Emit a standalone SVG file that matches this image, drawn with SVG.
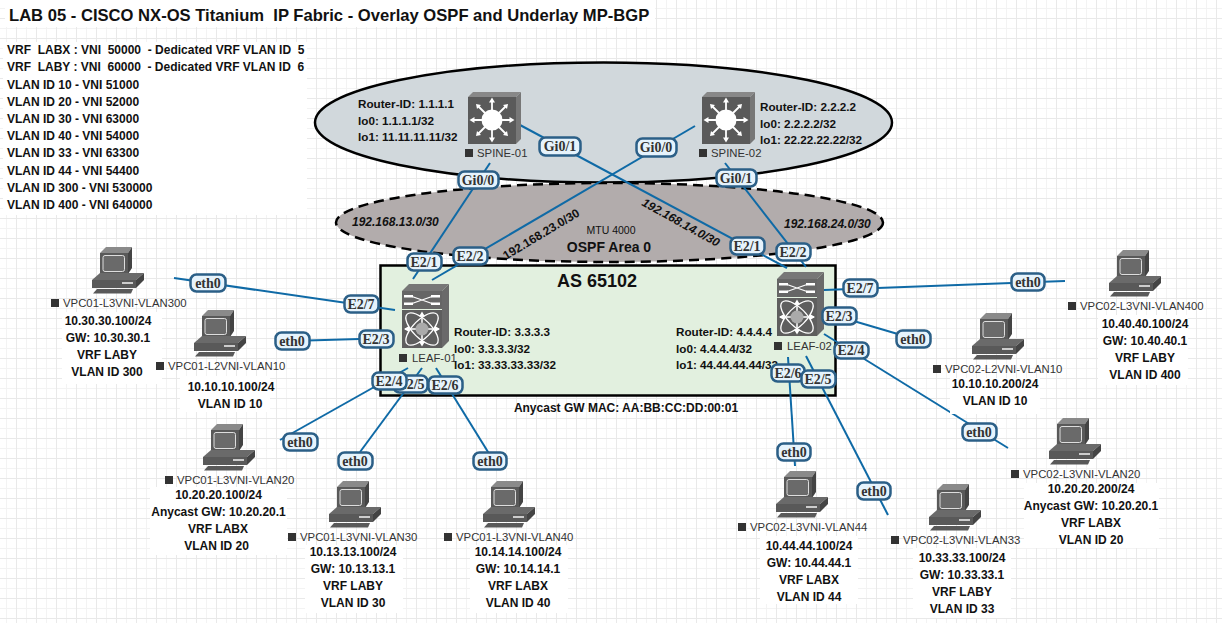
<svg xmlns="http://www.w3.org/2000/svg" width="1222" height="623" viewBox="0 0 1222 623">
<style>
text{font-family:"Liberation Sans",Arial,sans-serif;fill:#111}
.b{font-weight:bold;font-size:12px}
.m{text-anchor:middle}
.n{font-size:11.35px;fill:#333;font-weight:normal}
.h{font-size:11.7px;font-weight:bold}
.i{font-weight:bold;font-style:italic;font-size:12px}
.c{fill:none;stroke:#0f6aa6;stroke-width:2}
.lb rect{fill:#e6f3fc;stroke:#2b5f87;stroke-width:2.5}
.lb text{font-family:"Liberation Serif",serif;font-weight:bold;font-size:14px;text-anchor:middle;fill:#333}
.w{fill:#fff}
.sq{fill:#333}
</style>
<defs>
<pattern id="g" width="20" height="20" patternUnits="userSpaceOnUse">
<path d="M6.5 0V20M0 8.500H20" fill="none" stroke="#f3f3f3" stroke-width="1"/>
<path d="M16.500 0V20M0 18.500H20" fill="none" stroke="#e9e9e9" stroke-width="1"/>
</pattern>
<symbol id="pc" width="52" height="47" viewBox="0 0 52 47" overflow="visible">
<path d="M8 6L14 0H40L36 6Z" fill="#8a8a8a"/>
<path d="M36 6L40 0V21L36 27Z" fill="#444"/>
<rect x="8" y="6" width="28" height="21" fill="#595959"/>
<rect x="11" y="8.500" width="21.500" height="16" rx="2" fill="#6a6a6a" stroke="#ddd"/>
<path d="M0 33L8 26H52L44 33Z" fill="#6a6a6a"/>
<rect x="0" y="33" width="44" height="8" fill="#595959"/>
<path d="M44 33L52 26V33L44 41Z" fill="#444"/>
<rect x="30" y="35" width="11" height="2" fill="#ccc"/>
<path d="M5 42L1 46.500H39L41 42Z" fill="#595959"/>
</symbol>
<symbol id="spine" width="53" height="52" viewBox="0 0 53 52" overflow="visible">
<path d="M0 5L5 0H53L48 5Z" fill="#888"/>
<path d="M48 5L53 0V47L48 52Z" fill="#777"/>
<rect x="0" y="5" width="48" height="47" fill="#5a5a5a"/>
<circle cx="24" cy="28" r="10.500" fill="#fff"/>
<path d="M24 18V9M24 38V47M14 28H5M34 28H43M17 21L10 14M31 21L38 14M17 35L10 42M31 35L38 42" stroke="#fff" stroke-width="1.800" fill="none"/>
<path d="M24 5.500L21 10.500H27ZM24 50.500L21 45.500H27ZM1.500 28L6.500 25V31ZM46.500 28L41.500 25V31ZM8 12L13 13L9 17ZM40 12L35 13L39 17ZM8 44L13 43L9 39ZM40 44L35 43L39 39Z" fill="#fff"/>
</symbol>
<symbol id="leaf" width="47" height="64" viewBox="0 0 47 64" overflow="visible">
<path d="M0 7L7 0H47L40 7Z" fill="#777"/>
<path d="M40 7L47 0V57L40 64Z" fill="#6a6a6a"/>
<rect x="0" y="7" width="40" height="18" fill="#666"/>
<rect x="0" y="26" width="40" height="38" fill="#5e5e5e"/>
<path d="M10 12.500L30 19.500M10 19.500L30 12.500" fill="none" stroke="#fff" stroke-width="1.300"/>
<path d="M2 11h9v2.500H2zM2 18.500h9v2.500H2zM29 11h9v2.500H29zM29 18.500h9v2.500H29z" fill="#fff"/>
<ellipse cx="20" cy="45" rx="21" ry="9" fill="none" stroke="#fff" stroke-width="1.300" transform="rotate(45 20 45)"/>
<ellipse cx="20" cy="45" rx="21" ry="9" fill="none" stroke="#fff" stroke-width="1.300" transform="rotate(-45 20 45)"/>
<path d="M20 30V60M3 45H37" stroke="#fff" stroke-width="1.500"/>
<path d="M20 27.500L17 32.500H23ZM20 62.500L17 57.500H23ZM2 45L7 42V48ZM38 45L33 42V48Z" fill="#fff"/>
<circle cx="20" cy="45" r="6.500" fill="#aaa"/>
</symbol>
</defs>
<rect width="1222" height="623" fill="#fff"/>
<rect width="1222" height="623" fill="url(#g)"/>
<rect x="5" y="0" width="650" height="27" fill="#fff"/>
<rect x="3" y="42" width="304" height="173" fill="#fff"/>

<g id="areas">
<ellipse id="spine-area" cx="603.500" cy="122.500" rx="288.500" ry="60" fill="#d1d8dc" stroke="#000" stroke-width="2.500"/>
<ellipse id="ospf-area" cx="609.500" cy="222.500" rx="273.500" ry="39.500" fill="#b2acac" stroke="#000" stroke-width="2.500" stroke-dasharray="10 6"/>
<rect id="as-box" x="380.500" y="265.500" width="455" height="130" fill="#e2f0df" stroke="#000" stroke-width="2.500"/>
</g>

<text x="9" y="21" xml:space="preserve" style="font-size:16.6px;font-weight:bold">LAB 05 - CISCO NX-OS Titanium  IP Fabric - Overlay OSPF and Underlay MP-BGP</text>
<g>
<text class="b" x="7" y="54" xml:space="preserve">VRF  LABX : VNI  50000  - Dedicated VRF VLAN ID  5</text>
<text class="b" x="7" y="71" xml:space="preserve">VRF  LABY : VNI  60000  - Dedicated VRF VLAN ID  6</text>
<text class="b" x="7" y="89">VLAN ID 10 - VNI 51000</text>
<text class="b" x="7" y="106">VLAN ID 20 - VNI 52000</text>
<text class="b" x="7" y="123">VLAN ID 30 - VNI 63000</text>
<text class="b" x="7" y="140">VLAN ID 40 - VNI 54000</text>
<text class="b" x="7" y="157">VLAN ID 33 - VNI 63300</text>
<text class="b" x="7" y="175">VLAN ID 44 - VNI 54400</text>
<text class="b" x="7" y="192">VLAN ID 300 - VNI 530000</text>
<text class="b" x="7" y="209">VLAN ID 400 - VNI 640000</text>
</g>

<g id="connectors">
<path class="c" d="M490 163L413 279"/>
<path class="c" d="M520 125L787 268"/>
<path class="c" d="M695 126L432 280"/>
<path class="c" d="M725 163L806 267"/>
<path class="c" d="M174 278L395 310"/>
<path class="c" d="M290 341L394 338"/>
<path class="c" d="M408 368L280 440"/>
<path class="c" d="M422 368L360 452"/>
<path class="c" d="M436 368L493 460"/>
<path class="c" d="M824 290L1065 281"/>
<path class="c" d="M840 317L925 342"/>
<path class="c" d="M824 334L1008 448"/>
<path class="c" d="M788 357L795 466"/>
<path class="c" d="M806 356L888 515"/>
</g>

<g id="spine-01"><use href="#spine" x="468" y="92"/><rect class="sq" x="465" y="149" width="8" height="8"/><text class="n" x="477" y="157">SPINE-01</text>
<text class="h" x="358" y="108">Router-ID: 1.1.1.1</text><text class="h" x="358" y="125">lo0: 1.1.1.1/32</text><text class="h" x="358" y="141">lo1: 11.11.11.11/32</text></g>
<g id="spine-02"><use href="#spine" x="702" y="92"/><rect class="sq" x="699" y="149" width="8" height="8"/><text class="n" x="711" y="157">SPINE-02</text>
<text class="h" x="760" y="111">Router-ID: 2.2.2.2</text><text class="h" x="760" y="128">lo0: 2.2.2.2/32</text><text class="h" x="760" y="144">lo1: 22.22.22.22/32</text></g>
<g id="leaf-01"><use href="#leaf" x="402" y="284"/><rect class="sq" x="399" y="354" width="8" height="8"/><text class="n" x="412" y="362">LEAF-01</text>
<text class="h" x="454" y="336">Router-ID: 3.3.3.3</text><text class="h" x="454" y="353">lo0: 3.3.3.3/32</text><text class="h" x="454" y="369">lo1: 33.33.33.33/32</text></g>
<g id="leaf-02"><use href="#leaf" x="777" y="272"/><rect class="sq" x="774" y="342" width="8" height="8"/><text class="n" x="787" y="350">LEAF-02</text>
<text class="h" x="676" y="336">Router-ID: 4.4.4.4</text><text class="h" x="676" y="353">lo0: 4.4.4.4/32</text><text class="h" x="676" y="369">lo1: 44.44.44.44/32</text></g>

<text class="i" x="352" y="226">192.168.13.0/30</text>
<text class="i" x="784" y="228">192.168.24.0/30</text>
<text class="b" x="506" y="260" transform="rotate(-31 506 260)">192.168.23.0/30</text>
<text class="i" x="641" y="205" transform="rotate(29 641 205)">192.168.14.0/30</text>
<text class="m" x="611" y="234" style="font-size:10.5px">MTU 4000</text>
<text class="m" x="609" y="252" style="font-size:14px;font-weight:bold">OSPF Area 0</text>
<text class="m" x="597" y="287" style="font-size:18px;font-weight:bold">AS 65102</text>
<text class="m" x="626" y="412" style="font-size:12px;font-weight:bold">Anycast GW MAC: AA:BB:CC:DD:00:01</text>

<g class="lb">
<g><rect x="539.500" y="137.500" width="41" height="18" rx="6"/><text x="560" y="151">Gi0/1</text></g>
<g><rect x="636.500" y="138.500" width="40" height="18" rx="6"/><text x="656" y="152">Gi0/0</text></g>
<g><rect x="458.500" y="171.500" width="40" height="17" rx="6"/><text x="478" y="185">Gi0/0</text></g>
<g><rect x="716.500" y="169.500" width="40" height="17" rx="6"/><text x="736" y="183">Gi0/1</text></g>
<g><rect x="407.500" y="253.500" width="34" height="17" rx="6"/><text x="424" y="267">E2/1</text></g>
<g><rect x="453.500" y="247.500" width="34" height="17" rx="6"/><text x="470" y="261">E2/2</text></g>
<g><rect x="730.500" y="237.500" width="34" height="17" rx="6"/><text x="747" y="251">E2/1</text></g>
<g><rect x="776.500" y="243.500" width="34" height="17" rx="6"/><text x="793" y="257">E2/2</text></g>
<g><rect x="344.500" y="295.500" width="34" height="17" rx="6"/><text x="361" y="309">E2/7</text></g>
<g><rect x="359.500" y="330.500" width="34" height="17" rx="6"/><text x="376" y="344">E2/3</text></g>
<g><rect x="393.500" y="375.500" width="34" height="17" rx="6"/><text x="411" y="389">E2/5</text></g>
<g><rect x="372.500" y="372.500" width="34" height="17" rx="6"/><text x="389" y="386">E2/4</text></g>
<g><rect x="428.500" y="376.500" width="34" height="17" rx="6"/><text x="445" y="390">E2/6</text></g>
<g><rect x="843.500" y="279.500" width="34" height="17" rx="6"/><text x="860" y="293">E2/7</text></g>
<g><rect x="822.500" y="307.500" width="34" height="17" rx="6"/><text x="839" y="321">E2/3</text></g>
<g><rect x="834.500" y="342.500" width="34" height="16" rx="6"/><text x="851" y="355">E2/4</text></g>
<g><rect x="771.500" y="364.500" width="33" height="17" rx="6"/><text x="788" y="378">E2/6</text></g>
<g><rect x="801.500" y="370.500" width="34" height="17" rx="6"/><text x="818" y="384">E2/5</text></g>
<g><rect x="190.500" y="274.500" width="35" height="17" rx="6"/><text x="208" y="288">eth0</text></g>
<g><rect x="275.500" y="332.500" width="34" height="17" rx="6"/><text x="292" y="346">eth0</text></g>
<g><rect x="283.500" y="433.500" width="34" height="17" rx="6"/><text x="300" y="447">eth0</text></g>
<g><rect x="338.500" y="452.500" width="34" height="17" rx="6"/><text x="355" y="466">eth0</text></g>
<g><rect x="473.500" y="452.500" width="33" height="17" rx="6"/><text x="490" y="466">eth0</text></g>
<g><rect x="1011.500" y="273.500" width="33" height="17" rx="6"/><text x="1028" y="287">eth0</text></g>
<g><rect x="896.500" y="330.500" width="34" height="17" rx="6"/><text x="913" y="344">eth0</text></g>
<g><rect x="962.500" y="423.500" width="34" height="17" rx="6"/><text x="979" y="437">eth0</text></g>
<g><rect x="777.500" y="443.500" width="33" height="17" rx="6"/><text x="794" y="457">eth0</text></g>
<g><rect x="857.500" y="482.500" width="33" height="17" rx="6"/><text x="874" y="496">eth0</text></g>
</g>

<g id="vpc01-l3vni-vlan300"><use href="#pc" x="92" y="247"/><rect class="sq" x="51" y="299" width="8" height="8"/><text class="n" x="63" y="307">VPC01-L3VNI-VLAN300</text>
<rect class="w" x="62" y="312" width="100" height="72"/><text class="b m" x="108" y="325">10.30.30.100/24</text><text class="b m" x="108" y="342">GW: 10.30.30.1</text><text class="b m" x="107" y="359">VRF LABY</text><text class="b m" x="107" y="376">VLAN ID 300</text></g>
<g id="vpc01-l2vni-vlan10"><use href="#pc" x="194" y="310"/><rect class="sq" x="156" y="362" width="8" height="8"/><text class="n" x="168" y="370">VPC01-L2VNI-VLAN10</text>
<rect class="w" x="180" y="376" width="90" height="36"/><text class="b m" x="231" y="391">10.10.10.100/24</text><text class="b m" x="230" y="408">VLAN ID 10</text></g>
<g id="vpc01-l3vni-vlan20"><use href="#pc" x="203" y="424"/><rect class="sq" x="165" y="476" width="8" height="8"/><text class="n" x="177" y="484">VPC01-L3VNI-VLAN20</text>
<rect class="w" x="150" y="487" width="137" height="68"/><text class="b m" x="218.500" y="499">10.20.20.100/24</text><text class="b m" x="218.500" y="516">Anycast GW: 10.20.20.1</text><text class="b m" x="218" y="533">VRF LABX</text><text class="b m" x="216.500" y="550">VLAN ID 20</text></g>
<g id="vpc01-l3vni-vlan30"><use href="#pc" x="329" y="481"/><rect class="sq" x="288" y="533" width="8" height="8"/><text class="n" x="300" y="541">VPC01-L3VNI-VLAN30</text>
<rect class="w" x="305" y="545" width="98" height="68"/><text class="b m" x="353" y="556">10.13.13.100/24</text><text class="b m" x="353" y="573">GW: 10.13.13.1</text><text class="b m" x="353" y="590">VRF LABY</text><text class="b m" x="353" y="607">VLAN ID 30</text></g>
<g id="vpc01-l3vni-vlan40"><use href="#pc" x="483" y="481"/><rect class="sq" x="444" y="533" width="8" height="8"/><text class="n" x="456" y="541">VPC01-L3VNI-VLAN40</text>
<rect class="w" x="470" y="545" width="98" height="68"/><text class="b m" x="518" y="556">10.14.14.100/24</text><text class="b m" x="518" y="573">GW: 10.14.14.1</text><text class="b m" x="518" y="590">VRF LABX</text><text class="b m" x="518" y="607">VLAN ID 40</text></g>
<g id="vpc02-l3vni-vlan44"><use href="#pc" x="776" y="471"/><rect class="sq" x="738" y="523" width="8" height="8"/><text class="n" x="750" y="531">VPC02-L3VNI-VLAN44</text>
<rect class="w" x="760" y="536" width="98" height="68"/><text class="b m" x="809" y="550">10.44.44.100/24</text><text class="b m" x="809" y="567">GW: 10.44.44.1</text><text class="b m" x="809" y="584">VRF LABX</text><text class="b m" x="809" y="601">VLAN ID 44</text></g>
<g id="vpc02-l3vni-vlan33"><use href="#pc" x="929" y="484"/><rect class="sq" x="891" y="536" width="8" height="8"/><text class="n" x="903" y="544">VPC02-L3VNI-VLAN33</text>
<rect class="w" x="913" y="548" width="98" height="70"/><text class="b m" x="962" y="562">10.33.33.100/24</text><text class="b m" x="962" y="579">GW: 10.33.33.1</text><text class="b m" x="962" y="596">VRF LABY</text><text class="b m" x="962" y="613">VLAN ID 33</text></g>
<g id="vpc02-l3vni-vlan20"><use href="#pc" x="1049" y="418"/><rect class="sq" x="1011" y="470" width="8" height="8"/><text class="n" x="1023" y="478">VPC02-L3VNI-VLAN20</text>
<rect class="w" x="1024" y="483" width="135" height="65"/><text class="b m" x="1091" y="493">10.20.20.200/24</text><text class="b m" x="1091" y="510">Anycast GW: 10.20.20.1</text><text class="b m" x="1091" y="527">VRF LABX</text><text class="b m" x="1091" y="544">VLAN ID 20</text></g>
<g id="vpc02-l2vni-vlan10"><use href="#pc" x="972" y="313"/><rect class="sq" x="933" y="365" width="8" height="8"/><text class="n" x="945" y="373">VPC02-L2VNI-VLAN10</text>
<rect class="w" x="950" y="378" width="90" height="36"/><text class="b m" x="995" y="388">10.10.10.200/24</text><text class="b m" x="995" y="405">VLAN ID 10</text></g>
<g id="vpc02-l3vni-vlan400"><use href="#pc" x="1109" y="250"/><rect class="sq" x="1068" y="302" width="8" height="8"/><text class="n" x="1080" y="310">VPC02-L3VNI-VLAN400</text>
<rect class="w" x="1098" y="315" width="90" height="70"/><text class="b m" x="1145" y="328">10.40.40.100/24</text><text class="b m" x="1145" y="345">GW: 10.40.40.1</text><text class="b m" x="1145" y="362">VRF LABY</text><text class="b m" x="1145" y="379">VLAN ID 400</text></g>
</svg>
